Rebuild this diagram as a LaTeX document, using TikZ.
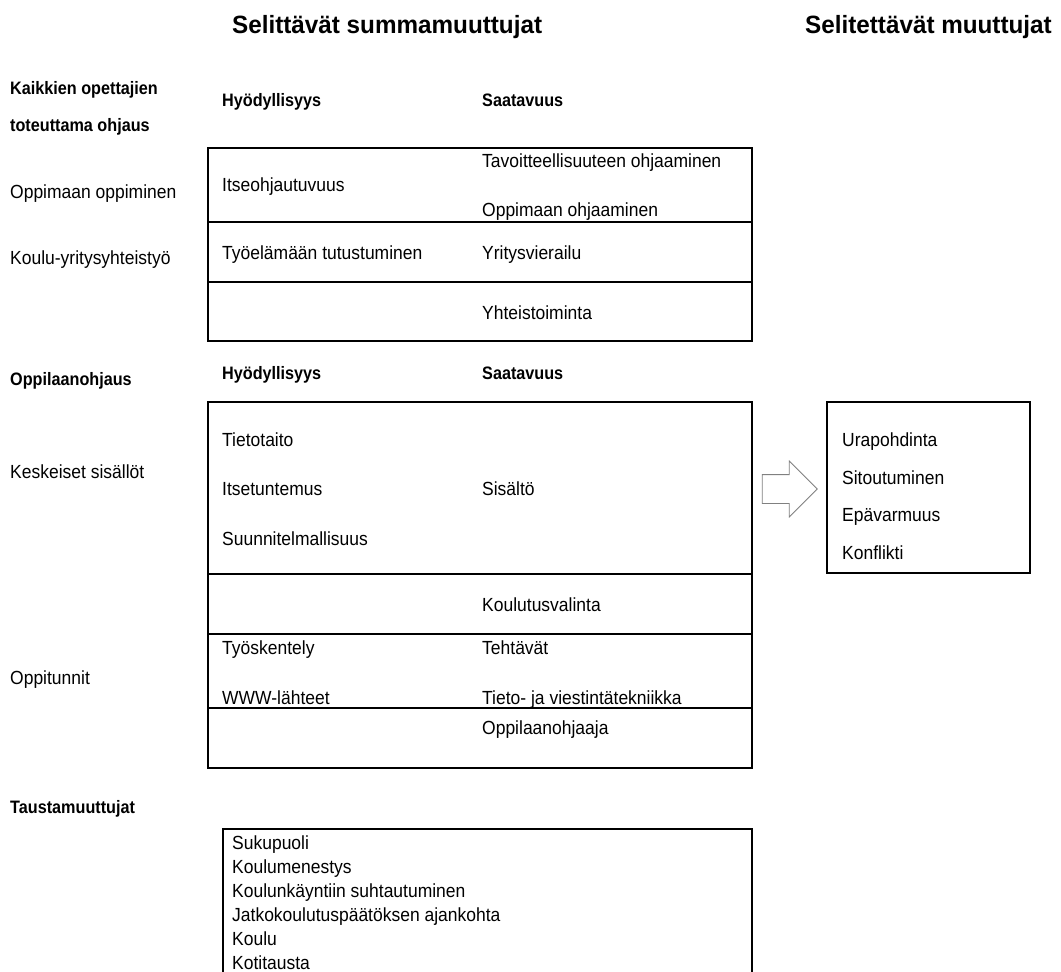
\documentclass[tikz,border=0pt]{standalone}
\usepackage{fontspec}
\setmainfont{Liberation Sans}[FakeStretch=0.92]
\newfontfamily\labelbold{Liberation Sans}[FakeStretch=0.9]
\newfontfamily\headfont{Liberation Sans}[FakeStretch=0.97]
\usetikzlibrary{shapes.arrows,calc}

\begin{document}
\begin{tikzpicture}[x=1pt,y=-1pt,
  txt/.style={anchor=base west, inner sep=0pt, font=\fontsize{19}{23}\selectfont},
  btxt/.style={anchor=base west, inner sep=0pt, font=\labelbold\fontsize{18}{22}\selectfont\bfseries},
  heading/.style={anchor=base west, inner sep=0pt, font=\headfont\fontsize{25}{30}\selectfont\bfseries},
  frame/.style={draw=black, line width=2.5pt, inner sep=0pt, outer sep=0pt, anchor=north west},
  rule/.style={draw=black, line width=2.5pt},
  blockarrow/.style={single arrow, draw=black!50, line width=0.8pt, fill=white,
    inner sep=0pt, text width=0pt, text height=28pt, text depth=0pt,
    minimum height=55pt, single arrow head extend=13.5pt}
]
\useasboundingbox (0,0) rectangle (1061,972);

% column headings
\node[heading] (hexpl) at (232,33) {Selittävät summamuuttujat};
\node[heading] (hresp) at (805,33) {Selitettävät muuttujat};

% ---- guidance by all teachers ----
\node[btxt] (g1a) at (10,94.5) {Kaikkien opettajien};
\node[btxt] (g1b) at (10,131.5) {toteuttama ohjaus};
\node[btxt] (g1u) at (222,106.5) {Hyödyllisyys};
\node[btxt] (g1s) at (482,106.5) {Saatavuus};

\node[frame, minimum width=544pt, minimum height=193pt] (b1) at (208,148) {};
\draw[rule] ($(b1.north west)+(0,74)$) -- ($(b1.north east)+(0,74)$);
\draw[rule] ($(b1.north west)+(0,134)$) -- ($(b1.north east)+(0,134)$);

\node[txt] (r1a) at (10,198.5) {Oppimaan oppiminen};
\node[txt] (r1b) at (10,264.5) {Koulu-yritysyhteistyö};
\node[txt] (c11) at (482,167.5) {Tavoitteellisuuteen ohjaaminen};
\node[txt] (c12) at (222,191.5) {Itseohjautuvuus};
\node[txt] (c13) at (482,216.5) {Oppimaan ohjaaminen};
\node[txt] (c14) at (222,259.5) {Työelämään tutustuminen};
\node[txt] (c15) at (482,259.5) {Yritysvierailu};
\node[txt] (c16) at (482,319.5) {Yhteistoiminta};

% ---- student counselling ----
\node[btxt] (g2) at (10,385.5) {Oppilaanohjaus};
\node[btxt] (g2u) at (222,379.5) {Hyödyllisyys};
\node[btxt] (g2s) at (482,379.5) {Saatavuus};

\node[frame, minimum width=544pt, minimum height=366pt] (b2) at (208,402) {};
\draw[rule] ($(b2.north west)+(0,172)$) -- ($(b2.north east)+(0,172)$);
\draw[rule] ($(b2.north west)+(0,232)$) -- ($(b2.north east)+(0,232)$);
\draw[rule] ($(b2.north west)+(0,306)$) -- ($(b2.north east)+(0,306)$);

\node[txt] (r2a) at (10,478.5) {Keskeiset sisällöt};
\node[txt] (r2b) at (10,684.5) {Oppitunnit};
\node[txt] (c21) at (222,446.5) {Tietotaito};
\node[txt] (c22) at (222,495.5) {Itsetuntemus};
\node[txt] (c23) at (482,495.5) {Sisältö};
\node[txt] (c24) at (222,545.5) {Suunnitelmallisuus};
\node[txt] (c25) at (482,611.5) {Koulutusvalinta};
\node[txt] (c26) at (222,654.5) {Työskentely};
\node[txt] (c27) at (482,654.5) {Tehtävät};
\node[txt] (c28) at (222,704.5) {WWW-lähteet};
\node[txt] (c29) at (482,704.5) {Tieto- ja viestintätekniikka};
\node[txt] (c30) at (482,734.5) {Oppilaanohjaaja};

% ---- explained variables ----
\node[frame, minimum width=203pt, minimum height=171pt] (rb) at (827,402) {};
\node[txt] (d1) at (842,446.5) {Urapohdinta};
\node[txt] (d2) at (842,484.5) {Sitoutuminen};
\node[txt] (d3) at (842,521.5) {Epävarmuus};
\node[txt] (d4) at (842,559.5) {Konflikti};

\coordinate (gap) at ($(b2.east)!0.5!(rb.west)$);
\node[blockarrow] (arr) at ($(gap |- rb.west)+(-7,1.5)$) {};

% ---- background variables ----
\node[btxt] (g3) at (10,813.5) {Taustamuuttujat};
\coordinate (bbl) at (223,972);
\coordinate (btl) at (223,829);
\coordinate (btr) at (752,829);
\coordinate (bbr) at (752,972);
\draw[rule] (bbl) -- (btl) -- (btr) -- (bbr);
\node[txt] (e1) at (232,849.5) {Sukupuoli};
\node[txt] (e2) at (232,873.5) {Koulumenestys};
\node[txt] (e3) at (232,897.5) {Koulunkäyntiin suhtautuminen};
\node[txt] (e4) at (232,921.5) {Jatkokoulutuspäätöksen ajankohta};
\node[txt] (e5) at (232,945.5) {Koulu};
\node[txt] (e6) at (232,969.5) {Kotitausta};
\end{tikzpicture}
\end{document}
